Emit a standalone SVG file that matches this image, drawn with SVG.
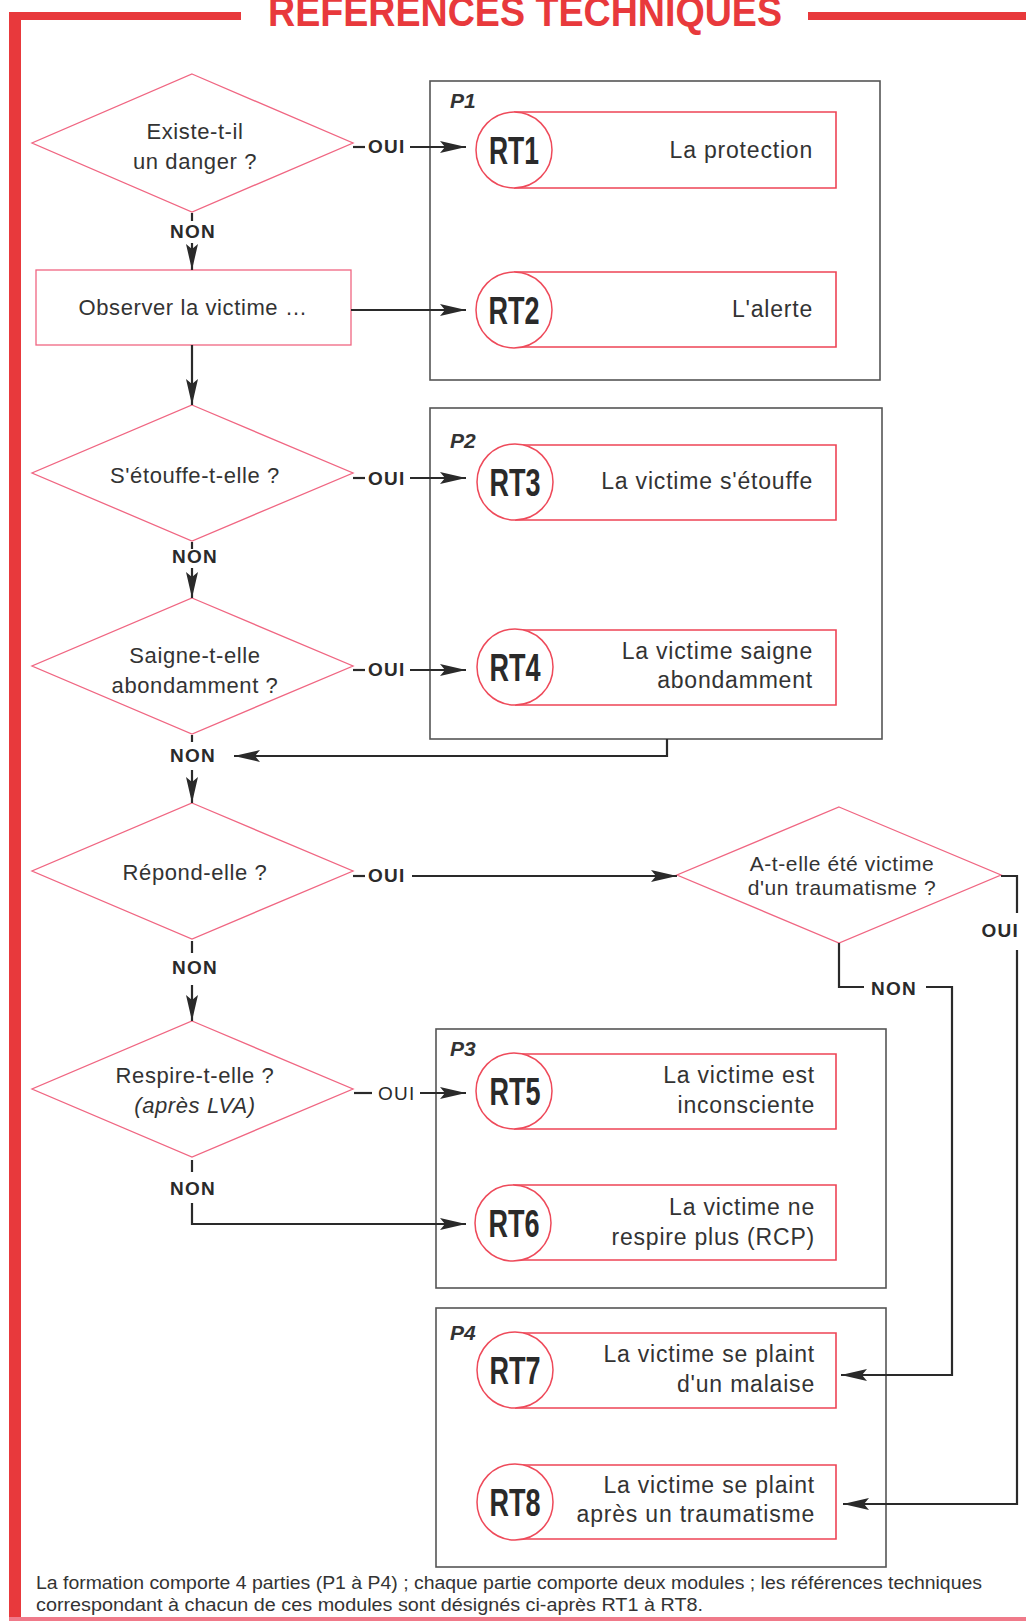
<svg xmlns="http://www.w3.org/2000/svg" width="1026" height="1621" viewBox="0 0 1026 1621">
  <defs>
    <style>
      .frame { fill: #e8393c; }
      .title { font-family: "Liberation Sans", Arial, sans-serif; font-weight: bold; font-size: 42px; fill: #e8393c; }
      .diamond { fill: none; stroke: #f06682; stroke-width: 1.3; }
      .obox { fill: #fff; stroke: #f06682; stroke-width: 1.3; }
      .part { fill: none; stroke: #555; stroke-width: 1.6; }
      .plabel { font-family: "Liberation Sans", Arial, sans-serif; font-weight: bold; font-style: italic; font-size: 21px; fill: #333; }
      .rtbox { fill: #fff; stroke: #ee4455; stroke-width: 1.6; }
      .rtcircle { fill: #fff; stroke: #ee4a5a; stroke-width: 1.5; }
      .rtid { font-family: "Liberation Sans", Arial, sans-serif; font-weight: bold; font-size: 39px; fill: #2a2a2a; text-anchor: middle; }
      .desc { font-family: "Liberation Sans", Arial, sans-serif; font-size: 23px; letter-spacing: 0.8px; fill: #333; text-anchor: end; }
      .q { font-family: "Liberation Sans", Arial, sans-serif; font-size: 22px; letter-spacing: 0.6px; fill: #333; text-anchor: middle; }
      .q-tight { font-family: "Liberation Sans", Arial, sans-serif; font-size: 21px; letter-spacing: 0.6px; fill: #333; text-anchor: middle; }
      .lbl { font-family: "Liberation Sans", Arial, sans-serif; font-weight: bold; font-size: 19px; letter-spacing: 1.2px; fill: #2a2a2a; }
      .lbl-n { font-family: "Liberation Sans", Arial, sans-serif; font-size: 19px; letter-spacing: 1.2px; fill: #2a2a2a; }
      .conn { fill: none; stroke: #2a2a2a; stroke-width: 2.2; }
      .arrow { marker-end: url(#head); }
      .note { font-family: "Liberation Sans", Arial, sans-serif; font-size: 17.5px; fill: #333; }
    </style>
    <marker id="head" markerUnits="userSpaceOnUse" markerWidth="28" markerHeight="14" refX="26" refY="7" orient="auto">
      <path d="M0,1 L26,7 L0,13 L5,7 Z" fill="#2a2a2a"/>
    </marker>
  </defs>

  <rect width="1026" height="1621" fill="#fff"/>

  <!-- page frame and heading -->
  <g id="frame">
    <rect class="frame" x="9" y="12" width="12" height="1609"/>
    <rect class="frame" x="9" y="12" width="232" height="8"/>
    <rect class="frame" x="808" y="12" width="218" height="8"/>
    <rect x="9" y="1617" width="1017" height="4" fill="#f07a8a"/>
    <text class="title" x="268" y="26" textLength="514" lengthAdjust="spacingAndGlyphs">RÉFÉRENCES TECHNIQUES</text>
  </g>

  <!-- part boxes -->
  <g id="P1">
    <rect class="part" x="430" y="81" width="450" height="299"/>
    <text class="plabel" x="450" y="108">P1</text>
  </g>
  <g id="P2">
    <rect class="part" x="430" y="408" width="452" height="331"/>
    <text class="plabel" x="450" y="448">P2</text>
  </g>
  <g id="P3">
    <rect class="part" x="436" y="1029" width="450" height="259"/>
    <text class="plabel" x="450" y="1056">P3</text>
  </g>
  <g id="P4">
    <rect class="part" x="436" y="1308" width="450" height="259"/>
    <text class="plabel" x="450" y="1340">P4</text>
  </g>

  <!-- technical reference modules -->
  <g id="RT1">
    <path class="rtbox" d="M514,112 H836 V188 H514"/>
    <circle class="rtcircle" cx="514" cy="150" r="38"/>
    <text class="rtid" x="514" y="164" textLength="50" lengthAdjust="spacingAndGlyphs">RT1</text>
    <text class="desc" x="813" y="158">La protection</text>
  </g>
  <g id="RT2">
    <path class="rtbox" d="M514,272 H836 V347 H514"/>
    <circle class="rtcircle" cx="514" cy="310" r="38"/>
    <text class="rtid" x="514" y="324" textLength="51" lengthAdjust="spacingAndGlyphs">RT2</text>
    <text class="desc" x="813" y="317">L'alerte</text>
  </g>
  <g id="RT3">
    <path class="rtbox" d="M515,445 H836 V520 H515"/>
    <circle class="rtcircle" cx="515" cy="482" r="38"/>
    <text class="rtid" x="515" y="496" textLength="51" lengthAdjust="spacingAndGlyphs">RT3</text>
    <text class="desc" x="813" y="489">La victime s'étouffe</text>
  </g>
  <g id="RT4">
    <path class="rtbox" d="M515,630 H836 V705 H515"/>
    <circle class="rtcircle" cx="515" cy="667" r="38"/>
    <text class="rtid" x="515" y="681" textLength="51" lengthAdjust="spacingAndGlyphs">RT4</text>
    <text class="desc" x="813" y="659">La victime saigne</text>
    <text class="desc" x="813" y="688">abondamment</text>
  </g>
  <g id="RT5">
    <path class="rtbox" d="M514,1054 H836 V1129 H514"/>
    <circle class="rtcircle" cx="514" cy="1091" r="38"/>
    <text class="rtid" x="515" y="1105" textLength="51" lengthAdjust="spacingAndGlyphs">RT5</text>
    <text class="desc" x="815" y="1083">La victime est</text>
    <text class="desc" x="815" y="1113">inconsciente</text>
  </g>
  <g id="RT6">
    <path class="rtbox" d="M513,1185 H836 V1260 H513"/>
    <circle class="rtcircle" cx="513" cy="1223" r="38"/>
    <text class="rtid" x="514" y="1237" textLength="51" lengthAdjust="spacingAndGlyphs">RT6</text>
    <text class="desc" x="815" y="1215">La victime ne</text>
    <text class="desc" x="815" y="1245">respire plus (RCP)</text>
  </g>
  <g id="RT7">
    <path class="rtbox" d="M515,1333 H836 V1408 H515"/>
    <circle class="rtcircle" cx="515" cy="1370" r="38"/>
    <text class="rtid" x="515" y="1384" textLength="51" lengthAdjust="spacingAndGlyphs">RT7</text>
    <text class="desc" x="815" y="1362">La victime se plaint</text>
    <text class="desc" x="815" y="1392">d'un malaise</text>
  </g>
  <g id="RT8">
    <path class="rtbox" d="M515,1465 H836 V1539 H515"/>
    <circle class="rtcircle" cx="515" cy="1502" r="38"/>
    <text class="rtid" x="515" y="1516" textLength="51" lengthAdjust="spacingAndGlyphs">RT8</text>
    <text class="desc" x="815" y="1493">La victime se plaint</text>
    <text class="desc" x="815" y="1522">après un traumatisme</text>
  </g>

  <!-- decisions and steps -->
  <g id="danger">
    <polygon class="diamond" points="192,74 353,143 192,212 32,143"/>
    <text class="q" x="195" y="139">Existe-t-il</text>
    <text class="q" x="195" y="169">un danger ?</text>
  </g>
  <g id="observer">
    <rect class="obox" x="36" y="270" width="315" height="75"/>
    <text class="q" x="193" y="315">Observer la victime …</text>
  </g>
  <g id="etouffe">
    <polygon class="diamond" points="192,405 353,473 192,541 32,473"/>
    <text class="q" x="195" y="483">S'étouffe-t-elle ?</text>
  </g>
  <g id="saigne">
    <polygon class="diamond" points="192,598 353,666 192,734 32,666"/>
    <text class="q" x="195" y="663">Saigne-t-elle</text>
    <text class="q" x="195" y="693">abondamment ?</text>
  </g>
  <g id="repond">
    <polygon class="diamond" points="192,803 353,871 192,939 32,871"/>
    <text class="q" x="195" y="880">Répond-elle ?</text>
  </g>
  <g id="respire">
    <polygon class="diamond" points="192,1021 353,1089 192,1157 32,1089"/>
    <text class="q" x="195" y="1083">Respire-t-elle ?</text>
    <text class="q" x="195" y="1113" font-style="italic">(après LVA)</text>
  </g>
  <g id="traumatisme">
    <polygon class="diamond" points="839,807 1001,875 839,943 677,875"/>
    <text class="q-tight" x="842" y="871">A-t-elle été victime</text>
    <text class="q-tight" x="842" y="895">d'un traumatisme ?</text>
  </g>

  <!-- connectors -->
  <g id="connectors">
    <!-- danger -->
    <line class="conn" x1="353" y1="147" x2="365" y2="147"/>
    <line class="conn arrow" x1="410" y1="147" x2="466" y2="147"/>
    <line class="conn" x1="192" y1="213" x2="192" y2="221"/>
    <line class="conn arrow" x1="192" y1="243" x2="192" y2="270"/>
    <!-- observer -->
    <line class="conn arrow" x1="351" y1="310" x2="466" y2="310"/>
    <line class="conn arrow" x1="192" y1="345" x2="192" y2="405"/>
    <!-- etouffe -->
    <line class="conn" x1="353" y1="478" x2="365" y2="478"/>
    <line class="conn arrow" x1="410" y1="478" x2="466" y2="478"/>
    <line class="conn" x1="192" y1="542" x2="192" y2="549"/>
    <line class="conn arrow" x1="192" y1="568" x2="192" y2="598"/>
    <!-- saigne -->
    <line class="conn" x1="353" y1="670" x2="365" y2="670"/>
    <line class="conn arrow" x1="410" y1="670" x2="466" y2="670"/>
    <line class="conn" x1="192" y1="735" x2="192" y2="742"/>
    <polyline class="conn arrow" points="667,739 667,756 234,756"/>
    <line class="conn arrow" x1="192" y1="770" x2="192" y2="803"/>
    <!-- repond -->
    <line class="conn" x1="353" y1="876" x2="365" y2="876"/>
    <line class="conn arrow" x1="412" y1="876" x2="677" y2="876"/>
    <line class="conn" x1="192" y1="941" x2="192" y2="953"/>
    <line class="conn arrow" x1="192" y1="985" x2="192" y2="1021"/>
    <!-- respire -->
    <line class="conn" x1="354" y1="1093" x2="372" y2="1093"/>
    <line class="conn arrow" x1="420" y1="1093" x2="466" y2="1093"/>
    <line class="conn" x1="192" y1="1160" x2="192" y2="1172"/>
    <polyline class="conn arrow" points="192,1203 192,1224 466,1224"/>
    <!-- traumatisme -->
    <polyline class="conn" points="1001,876 1017,876 1017,913"/>
    <polyline class="conn arrow" points="1017,950 1017,1504 843,1504"/>
    <polyline class="conn" points="839,943 839,987 864,987"/>
    <polyline class="conn arrow" points="926,987 952,987 952,1375 841,1375"/>

    <!-- branch labels -->
    <text class="lbl" x="368" y="153">OUI</text>
    <text class="lbl" x="368" y="485">OUI</text>
    <text class="lbl" x="368" y="676">OUI</text>
    <text class="lbl" x="368" y="882">OUI</text>
    <text class="lbl-n" x="378" y="1100">OUI</text>
    <text class="lbl" x="1019" y="937" text-anchor="end">OUI</text>
    <text class="lbl" x="193" y="238" text-anchor="middle">NON</text>
    <text class="lbl" x="195" y="563" text-anchor="middle">NON</text>
    <text class="lbl" x="193" y="762" text-anchor="middle">NON</text>
    <text class="lbl" x="195" y="974" text-anchor="middle">NON</text>
    <text class="lbl" x="193" y="1195" text-anchor="middle">NON</text>
    <text class="lbl" x="894" y="995" text-anchor="middle">NON</text>
  </g>

  <!-- footnote -->
  <g id="note">
    <text class="note" x="36" y="1589" textLength="946" lengthAdjust="spacingAndGlyphs">La formation comporte 4 parties (P1 à P4) ; chaque partie comporte deux modules ; les références techniques</text>
    <text class="note" x="36" y="1611" textLength="667" lengthAdjust="spacingAndGlyphs">correspondant à chacun de ces modules sont désignés ci-après RT1 à RT8.</text>
  </g>
</svg>
